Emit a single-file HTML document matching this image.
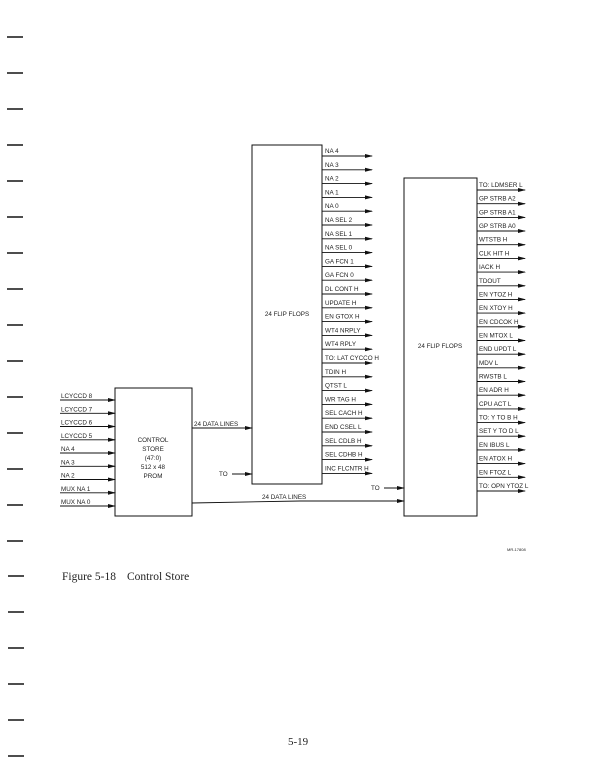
<!DOCTYPE html>
<html><head><meta charset="utf-8"><style>
html,body{margin:0;padding:0;background:#fff}
svg{display:block}
text{font-family:"Liberation Sans",sans-serif;font-size:6.3px;fill:#222}
</style></head><body>
<svg width="604" height="783" viewBox="0 0 604 783" xmlns="http://www.w3.org/2000/svg">
<defs><marker id="a" markerWidth="8" markerHeight="6" refX="7" refY="3" orient="auto" markerUnits="userSpaceOnUse"><path d="M0,1 L8,3 L0,5 Z" fill="#111"/></marker></defs>
<g stroke="#222" stroke-width="1.6">
<line x1="7" y1="37" x2="23" y2="37"/><line x1="7" y1="73" x2="23" y2="73"/><line x1="7" y1="109" x2="23" y2="109"/><line x1="7" y1="145" x2="23" y2="145"/><line x1="7" y1="181" x2="23" y2="181"/><line x1="7" y1="217" x2="23" y2="217"/><line x1="7" y1="253" x2="23" y2="253"/><line x1="7" y1="289" x2="23" y2="289"/><line x1="7" y1="325" x2="23" y2="325"/><line x1="7" y1="361" x2="23" y2="361"/><line x1="7" y1="397" x2="23" y2="397"/><line x1="7" y1="433" x2="23" y2="433"/><line x1="7" y1="469" x2="23" y2="469"/><line x1="7" y1="505" x2="23" y2="505"/><line x1="7" y1="541" x2="23" y2="541"/><line x1="8" y1="576" x2="24" y2="576"/><line x1="8" y1="612" x2="24" y2="612"/><line x1="8" y1="648" x2="24" y2="648"/><line x1="8" y1="684" x2="24" y2="684"/><line x1="8" y1="720" x2="24" y2="720"/><line x1="8" y1="756" x2="24" y2="756"/>
</g>
<g fill="none" stroke="#111" stroke-width="1">
<rect x="115" y="388" width="77" height="128"/>
<rect x="252" y="145" width="70" height="339"/>
<rect x="404" y="178" width="73" height="338"/>
</g>
<g stroke="#111" stroke-width="0.9" marker-end="url(#a)">
<line x1="60" y1="400" x2="115" y2="400"/><line x1="60" y1="413.3" x2="115" y2="413.3"/><line x1="60" y1="426.5" x2="115" y2="426.5"/><line x1="60" y1="439.8" x2="115" y2="439.8"/><line x1="60" y1="453" x2="115" y2="453"/><line x1="60" y1="466.3" x2="115" y2="466.3"/><line x1="60" y1="479.5" x2="115" y2="479.5"/><line x1="60" y1="492.8" x2="115" y2="492.8"/><line x1="60" y1="506" x2="115" y2="506"/>
<line x1="192" y1="428" x2="252" y2="428"/>
<line x1="232" y1="474" x2="252" y2="474"/>
<polyline fill="none" points="192,503 300,501 404,501"/>
<line x1="384" y1="488" x2="404" y2="488"/>
<line x1="322" y1="156" x2="372" y2="156"/><line x1="322" y1="169.8" x2="372" y2="169.8"/><line x1="322" y1="183.6" x2="372" y2="183.6"/><line x1="322" y1="197.4" x2="372" y2="197.4"/><line x1="322" y1="211.2" x2="372" y2="211.2"/><line x1="322" y1="225" x2="372" y2="225"/><line x1="322" y1="238.8" x2="372" y2="238.8"/><line x1="322" y1="252.6" x2="372" y2="252.6"/><line x1="322" y1="266.4" x2="372" y2="266.4"/><line x1="322" y1="280.2" x2="372" y2="280.2"/><line x1="322" y1="294" x2="372" y2="294"/><line x1="322" y1="307.8" x2="372" y2="307.8"/><line x1="322" y1="321.6" x2="372" y2="321.6"/><line x1="322" y1="335.4" x2="372" y2="335.4"/><line x1="322" y1="349.2" x2="372" y2="349.2"/><line x1="322" y1="363" x2="372" y2="363"/><line x1="322" y1="376.8" x2="372" y2="376.8"/><line x1="322" y1="390.6" x2="372" y2="390.6"/><line x1="322" y1="404.4" x2="372" y2="404.4"/><line x1="322" y1="418.2" x2="372" y2="418.2"/><line x1="322" y1="432" x2="372" y2="432"/><line x1="322" y1="445.8" x2="372" y2="445.8"/><line x1="322" y1="459.6" x2="372" y2="459.6"/><line x1="322" y1="473.4" x2="372" y2="473.4"/>
<line x1="477" y1="190" x2="525" y2="190"/><line x1="477" y1="203.7" x2="525" y2="203.7"/><line x1="477" y1="217.4" x2="525" y2="217.4"/><line x1="477" y1="231" x2="525" y2="231"/><line x1="477" y1="244.7" x2="525" y2="244.7"/><line x1="477" y1="258.4" x2="525" y2="258.4"/><line x1="477" y1="272.1" x2="525" y2="272.1"/><line x1="477" y1="285.8" x2="525" y2="285.8"/><line x1="477" y1="299.4" x2="525" y2="299.4"/><line x1="477" y1="313.1" x2="525" y2="313.1"/><line x1="477" y1="326.8" x2="525" y2="326.8"/><line x1="477" y1="340.5" x2="525" y2="340.5"/><line x1="477" y1="354.2" x2="525" y2="354.2"/><line x1="477" y1="367.8" x2="525" y2="367.8"/><line x1="477" y1="381.5" x2="525" y2="381.5"/><line x1="477" y1="395.2" x2="525" y2="395.2"/><line x1="477" y1="408.9" x2="525" y2="408.9"/><line x1="477" y1="422.6" x2="525" y2="422.6"/><line x1="477" y1="436.2" x2="525" y2="436.2"/><line x1="477" y1="449.9" x2="525" y2="449.9"/><line x1="477" y1="463.6" x2="525" y2="463.6"/><line x1="477" y1="477.3" x2="525" y2="477.3"/><line x1="477" y1="491" x2="525" y2="491"/>
</g>
<g>
<text x="61" y="398">LCYCCD 8</text><text x="61" y="411.3">LCYCCD 7</text><text x="61" y="424.5">LCYCCD 6</text><text x="61" y="437.8">LCYCCD 5</text><text x="61" y="451">NA 4</text><text x="61" y="464.3">NA 3</text><text x="61" y="477.5">NA 2</text><text x="61" y="490.8">MUX NA 1</text><text x="61" y="504">MUX NA 0</text>
<text x="153" y="442" text-anchor="middle">CONTROL</text><text x="153" y="451" text-anchor="middle">STORE</text><text x="153" y="460" text-anchor="middle">(47:0)</text><text x="153" y="469" text-anchor="middle">512 x 48</text><text x="153" y="478" text-anchor="middle">PROM</text>
<text x="194" y="426">24 DATA LINES</text>
<text x="219" y="476">TO</text>
<text x="262" y="499">24 DATA LINES</text>
<text x="371" y="490">TO</text>
<text x="287" y="316" text-anchor="middle">24 FLIP FLOPS</text>
<text x="440" y="348" text-anchor="middle">24 FLIP FLOPS</text>
<text x="325" y="153">NA 4</text><text x="325" y="166.8">NA 3</text><text x="325" y="180.6">NA 2</text><text x="325" y="194.4">NA 1</text><text x="325" y="208.2">NA 0</text><text x="325" y="222">NA SEL 2</text><text x="325" y="235.8">NA SEL 1</text><text x="325" y="249.6">NA SEL 0</text><text x="325" y="263.4">GA FCN 1</text><text x="325" y="277.2">GA FCN 0</text><text x="325" y="291">DL CONT H</text><text x="325" y="304.8">UPDATE H</text><text x="325" y="318.6">EN GTOX H</text><text x="325" y="332.4">WT4 NRPLY</text><text x="325" y="346.2">WT4 RPLY</text><text x="325" y="360">TO: LAT CYCCO H</text><text x="325" y="373.8">TDIN H</text><text x="325" y="387.6">QTST L</text><text x="325" y="401.4">WR TAG H</text><text x="325" y="415.2">SEL CACH H</text><text x="325" y="429">END CSEL L</text><text x="325" y="442.8">SEL CDLB H</text><text x="325" y="456.6">SEL CDHB H</text><text x="325" y="470.4">INC FLCNTR H</text>
<text x="479" y="187">TO: LDMSER L</text><text x="479" y="200.7">GP STRB A2</text><text x="479" y="214.4">GP STRB A1</text><text x="479" y="228">GP STRB A0</text><text x="479" y="241.7">WTSTB H</text><text x="479" y="255.4">CLK HIT H</text><text x="479" y="269.1">IACK H</text><text x="479" y="282.8">TDOUT</text><text x="479" y="296.4">EN YTOZ H</text><text x="479" y="310.1">EN XTOY H</text><text x="479" y="323.8">EN CDCOK H</text><text x="479" y="337.5">EN MTOX L</text><text x="479" y="351.2">END UPDT L</text><text x="479" y="364.8">MDV  L</text><text x="479" y="378.5">RWSTB L</text><text x="479" y="392.2">EN ADR H</text><text x="479" y="405.9">CPU ACT L</text><text x="479" y="419.6">TO:  Y TO B H</text><text x="479" y="433.2">SET Y TO D L</text><text x="479" y="446.9">EN IBUS L</text><text x="479" y="460.6">EN ATOX H</text><text x="479" y="474.3">EN FTOZ L</text><text x="479" y="488">TO: OPN YTOZ L</text>
<text x="507" y="551" style="font-size:4px">MR-17808</text>
<text x="62" y="580" style="font-family:'Liberation Serif',serif;font-size:11.5px">Figure 5-18</text>
<text x="127" y="580" style="font-family:'Liberation Serif',serif;font-size:11.5px">Control Store</text>
<text x="288" y="745" style="font-family:'Liberation Serif',serif;font-size:11px">5-19</text>
</g>
</svg>
</body></html>
